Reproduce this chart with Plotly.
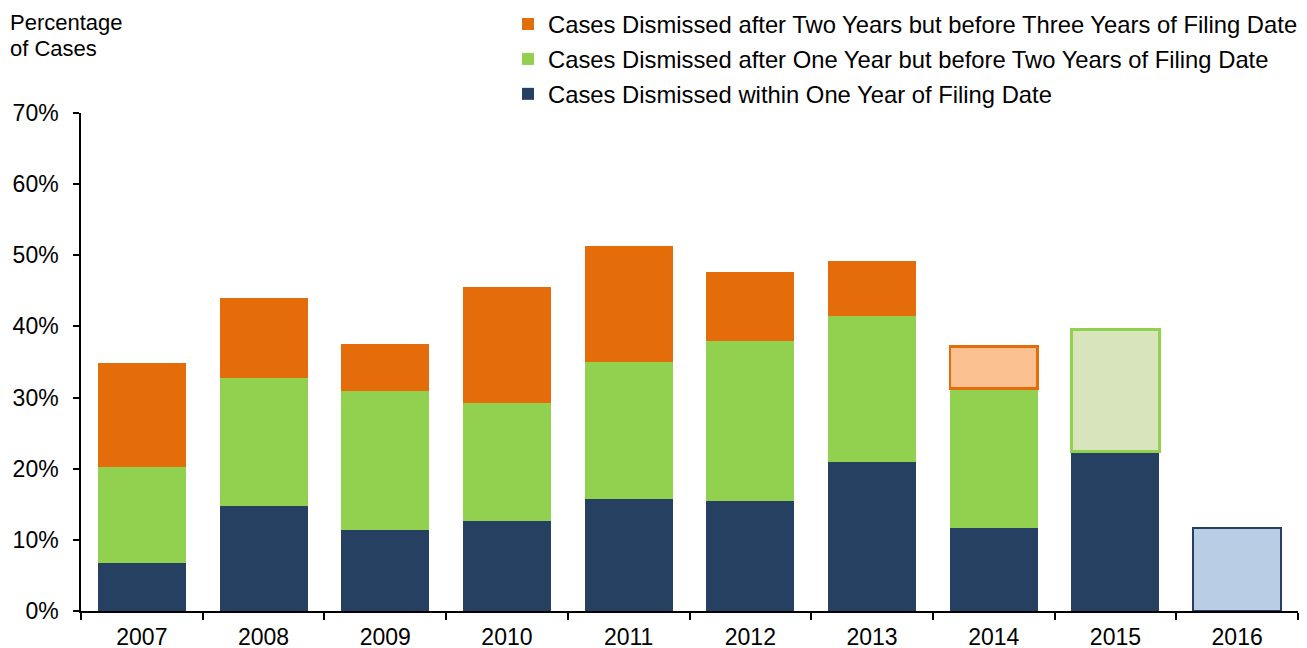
import plotly.graph_objects as go

years = ["2007", "2008", "2009", "2010", "2011", "2012", "2013", "2014", "2015", "2016"]
within_one = [6.7, 14.8, 11.4, 12.6, 15.7, 15.5, 21.0, 11.6, 22.4, 11.7]
one_to_two = [13.5, 18.0, 19.5, 16.7, 19.3, 22.4, 20.5, 19.7, 17.2, None]
two_to_three = [14.6, 11.2, 6.7, 16.3, 16.3, 9.7, 7.7, 5.9, None, None]
# which years are incomplete (drawn as light/outlined segments)
partial_navy = [False] * 9 + [True]
partial_green = [False] * 8 + [True, False]
partial_orange = [False] * 7 + [True, False, False]

NAVY, NAVY_L = "#264061", "#B9CDE5"
GREEN, GREEN_L = "#92D050", "#D8E4BC"
ORANGE, ORANGE_L = "#E46C0A", "#FAC090"
FONT = "Arial, Liberation Sans, sans-serif"


def styles(flags, solid, light):
    fills = [light if f else solid for f in flags]
    widths = [2.5 if f else 0 for f in flags]
    return fills, widths


fig = go.Figure()
for name, vals, flags, solid, light, rank in [
    ("Cases Dismissed within One Year of Filing Date", within_one, partial_navy, NAVY, NAVY_L, 3),
    ("Cases Dismissed after One Year but before Two Years of Filing Date", one_to_two, partial_green, GREEN, GREEN_L, 2),
    ("Cases Dismissed after Two Years but before Three Years of Filing Date", two_to_three, partial_orange, ORANGE, ORANGE_L, 1),
]:
    fills, widths = styles(flags, solid, light)
    fig.add_trace(go.Bar(
        x=years, y=vals, name=name, legendgroup=f"g{rank}", legendrank=rank,
        marker=dict(color=fills, line=dict(color=solid, width=widths)),
        hoverinfo="x+y+name",
    ))

W, H = 1299, 640
L, R, T, B = 73, 9, 105, 37
PW, PH = W - L - R, H - T - B

fig.update_layout(
    width=W, height=H,
    barmode="stack", bargap=0.277,
    plot_bgcolor="white", paper_bgcolor="white",
    margin=dict(l=L, r=R, t=T, b=B, autoexpand=False),
    font=dict(family=FONT, size=23, color="black"),
    legend=dict(
        xref="paper", yref="paper",
        x=(500 - L) / PW, y=1 + (T + 6) / PH, xanchor="left", yanchor="top",
        traceorder="grouped", tracegroupgap=1,
        font=dict(size=23.8), bgcolor="rgba(0,0,0,0)",
    ),
    showlegend=True,
)
fig.update_xaxes(
    type="category", showline=True, linecolor="black", linewidth=1.5,
    ticks="outside", tickson="boundaries", ticklen=7, tickcolor="black", tickwidth=1.5,
    showgrid=False, tickfont=dict(size=23), automargin=False, ticklabelstandoff=5,
)
fig.update_yaxes(
    range=[0, 70], dtick=10, ticksuffix="%", showline=True, linecolor="black", linewidth=1.5,
    ticks="outside", ticklen=6, tickcolor="black", tickwidth=1.5,
    showgrid=False, zeroline=False, tickfont=dict(size=23), ticklabelstandoff=10,
    automargin=False,
)
fig.add_annotation(text="Percentage", xref="paper", yref="paper", x=0, y=1,
                   xshift=-73, yshift=105, xanchor="left", yanchor="top",
                   showarrow=False, font=dict(size=22))
fig.add_annotation(text="of Cases", xref="paper", yref="paper", x=0, y=1,
                   xshift=-73, yshift=79, xanchor="left", yanchor="top",
                   showarrow=False, font=dict(size=22))
fig.write_html("out.html")
